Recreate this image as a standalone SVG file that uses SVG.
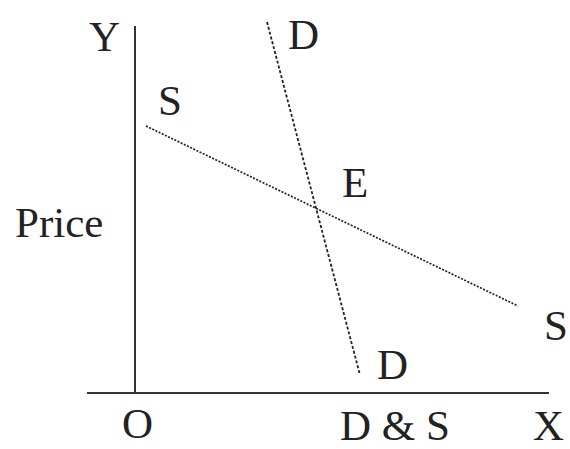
<svg xmlns="http://www.w3.org/2000/svg" width="570" height="449" viewBox="0 0 570 449">
<style>
.t{font-family:"Liberation Serif","Times New Roman",serif;font-size:43px;fill:#222}
.axis{stroke:#333;stroke-width:2;fill:none}
.dl{stroke:#222;stroke-width:1.8;stroke-dasharray:3 2;fill:none}
.sl{stroke:#222;stroke-width:1.7;stroke-dasharray:2 1.5;fill:none}
</style>
<rect width="570" height="449" fill="#fff"/>
<g id="connectors">
<line class="axis" x1="135" y1="26" x2="135" y2="393"/>
<line class="axis" x1="87" y1="393" x2="549" y2="393"/>
<line class="dl" x1="267" y1="22" x2="360" y2="375"/>
<line class="sl" x1="146" y1="126" x2="518" y2="306"/>
</g>
<g id="labels">
<text class="t" x="89" y="51">Y</text>
<text class="t" x="288" y="49">D</text>
<text class="t" x="158" y="115">S</text>
<text class="t" x="342" y="197">E</text>
<text class="t" x="15" y="237">Price</text>
<text class="t" x="544" y="340">S</text>
<text class="t" x="377" y="379">D</text>
<text class="t" x="122" y="438">O</text>
<text class="t" x="340" y="440">D &amp; S</text>
<text class="t" x="533" y="440">X</text>
</g>
</svg>
